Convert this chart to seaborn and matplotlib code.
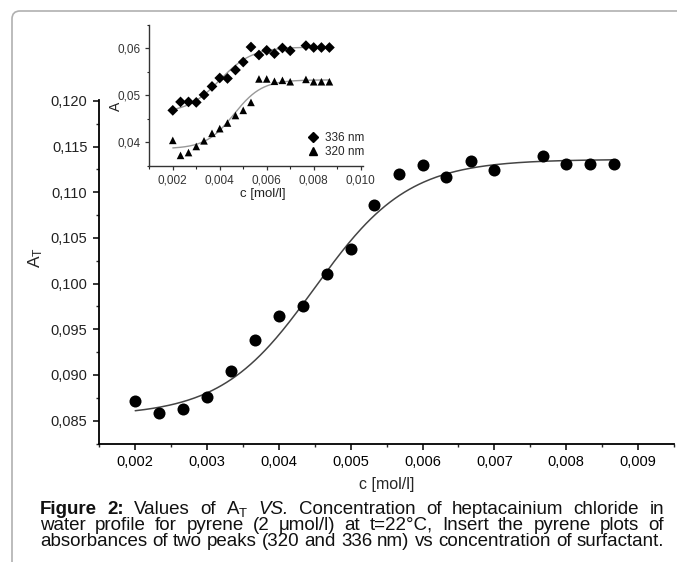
import numpy as np
import pandas as pd
import matplotlib
matplotlib.use("Agg")
import matplotlib.pyplot as plt
import seaborn as sns
from matplotlib.ticker import MultipleLocator, FuncFormatter
from matplotlib.patches import FancyBboxPatch
from matplotlib.lines import Line2D

# ---------------- data ----------------
conc = [0.002, 0.00233, 0.00267, 0.003, 0.00333, 0.00367, 0.004, 0.00433,
        0.00467, 0.005, 0.00533, 0.00567, 0.006, 0.00633, 0.00667, 0.007,
        0.00767, 0.008, 0.00833, 0.00867]
a_total = [0.0872, 0.0858, 0.0863, 0.0876, 0.0904, 0.0938, 0.0965, 0.0976,
           0.1010, 0.1038, 0.1086, 0.1120, 0.1130, 0.1117, 0.1134, 0.1124,
           0.1140, 0.1131, 0.1131, 0.1131]
a_336 = [0.0468, 0.0486, 0.0486, 0.0485, 0.0501, 0.0519, 0.0537, 0.0536,
         0.0554, 0.0571, 0.0603, 0.0586, 0.0596, 0.0589, 0.0601, 0.0595,
         0.0606, 0.0602, 0.0602, 0.0602]
a_320 = [0.0404, 0.0372, 0.0378, 0.0391, 0.0403, 0.0419, 0.0429, 0.0441,
         0.0457, 0.0468, 0.0485, 0.0535, 0.0535, 0.0530, 0.0532, 0.0529,
         0.0534, 0.0529, 0.0529, 0.0529]

# Boltzmann fit parameters (A1, A2, x0, dx)
fit_total = (0.0855, 0.1136, 0.0045, 0.00065)
fit_336 = (0.0462, 0.0603, 0.0040, 0.0007)
fit_320 = (0.0386, 0.0533, 0.0046, 0.0006)

series_labels = ["336 nm", "320 nm"]
xlabel = "c [mol/l]"

caption_lines = [
    [("Figure", "bold"), ("2:", "bold"), ("Values", ""), ("of", ""),
     ("A$_\\mathrm{T}$", ""), ("VS.", "italic"), ("Concentration", ""),
     ("of", ""), ("heptacainium", ""), ("chloride", ""), ("in", "")],
    [(w, "") for w in "water profile for pyrene (2 μmol/l) at t=22°C, Insert the pyrene plots of".split()],
    [(w, "") for w in "absorbances of two peaks (320 and 336 nm) vs concentration of surfactant.".split()],
]


def boltzmann(x, p):
    a1, a2, x0, dx = p
    return a2 + (a1 - a2) / (1 + np.exp((x - x0) / dx))


# ---------------- style ----------------
sns.set_style("ticks")
plt.rcParams["font.family"] = ["Liberation Sans", "DejaVu Sans"]
plt.rcParams["mathtext.fontset"] = "custom"
plt.rcParams["mathtext.rm"] = "Liberation Sans"
plt.rcParams["mathtext.it"] = "Liberation Sans:italic"

W, H = 677, 562
fig = plt.figure(figsize=(W / 100, H / 100), dpi=100)
fig.patch.set_facecolor("white")

# frame (rounded corner at top-left, rest cut off)
frame = FancyBboxPatch((0.12, -1.0), 8.0, 1.0 + (H - 11) / 100,
                       boxstyle="round,pad=0,rounding_size=0.08",
                       transform=fig.dpi_scale_trans, fill=False,
                       edgecolor="#b0b0b0", lw=1.2, zorder=0)
fig.patches.append(frame)


def comma_fmt(decimals):
    return FuncFormatter(lambda v, pos: f"{v:.{decimals}f}".replace(".", ","))


# ---------------- main axes ----------------
L, R, T, B = 99.3, 674, 100, 443.5
ax = fig.add_axes([L / W, 1 - B / H, (R - L) / W, (B - T) / H])
df = pd.DataFrame({"c": conc, "A": a_total})
xs = np.linspace(conc[0], conc[-1], 300)
sns.lineplot(x=xs, y=boltzmann(xs, fit_total), ax=ax, color="#444444", lw=1.1)
sns.scatterplot(data=df, x="c", y="A", ax=ax, color="black", s=75,
                edgecolor="black", linewidth=0, zorder=3)
ax.set_xlim(0.0015, 0.0095)
ax.set_ylim(0.0825, 0.1201)
ax.xaxis.set_major_locator(MultipleLocator(0.001))
ax.xaxis.set_minor_locator(MultipleLocator(0.0005))
ax.yaxis.set_major_locator(MultipleLocator(0.005))
ax.yaxis.set_minor_locator(MultipleLocator(0.0025))
ax.xaxis.set_major_formatter(comma_fmt(3))
ax.yaxis.set_major_formatter(comma_fmt(3))
sns.despine(ax=ax)
for s in ("left", "bottom"):
    ax.spines[s].set_linewidth(1.3)
    ax.spines[s].set_color("black")
ax.tick_params(which="major", length=4.5, width=1.1, labelsize=10.5,
               colors="black", pad=4)
ax.tick_params(which="minor", length=2.5, width=1.0)
ax.tick_params(axis="y", labelcolor="#222222")
ax.set_xlabel(xlabel, fontsize=11.5)
ax.set_ylabel("A$_\\mathrm{T}$", fontsize=12.5)
ax.xaxis.set_label_coords(0.5, -0.097)
ax.yaxis.set_label_coords(-0.094, 0.54)
ax.xaxis.label.set_va("top")

# ---------------- inset ----------------
iL, iR, iT, iB = 149.3, 363, 25, 165.7
axi = fig.add_axes([iL / W, 1 - iB / H, (iR - iL) / W, (iB - iT) / H])
axi.patch.set_alpha(0)
dfi = pd.DataFrame({"c": conc * 2, "A": a_336 + a_320,
                    "series": [series_labels[0]] * len(conc) + [series_labels[1]] * len(conc)})
sns.lineplot(x=xs, y=boltzmann(xs, fit_336), ax=axi, color="#999999", lw=1.0)
sns.lineplot(x=xs, y=boltzmann(xs, fit_320), ax=axi, color="#999999", lw=1.0)
sns.scatterplot(data=dfi, x="c", y="A", hue="series", style="series",
                markers={series_labels[0]: "D", series_labels[1]: "^"},
                palette={series_labels[0]: "black", series_labels[1]: "black"},
                s=30, linewidth=0, ax=axi, zorder=3, legend=False)
axi.set_xlim(0.001, 0.0101)
axi.set_ylim(0.035, 0.065)
axi.xaxis.set_major_locator(MultipleLocator(0.002))
axi.xaxis.set_minor_locator(MultipleLocator(0.001))
axi.yaxis.set_major_locator(MultipleLocator(0.01))
axi.yaxis.set_minor_locator(MultipleLocator(0.005))
axi.xaxis.set_major_formatter(comma_fmt(3))
axi.yaxis.set_major_formatter(comma_fmt(2))
sns.despine(ax=axi)
for s in ("left", "bottom"):
    axi.spines[s].set_linewidth(1.0)
    axi.spines[s].set_color("#333333")
axi.tick_params(which="major", length=3, width=0.9, labelsize=8.5, pad=3,
                colors="#333333")
axi.tick_params(which="minor", length=1.8, width=0.8)
axi.set_xlabel(xlabel, fontsize=9.5, color="#222222")
axi.set_ylabel("A", fontsize=10, color="#222222")
axi.xaxis.set_label_coords(0.53, -0.16)
axi.xaxis.label.set_va("top")
axi.yaxis.set_label_coords(-0.125, 0.42)
handles = [Line2D([], [], ls="none", marker="D", color="black", ms=5.6),
           Line2D([], [], ls="none", marker="^", color="black", ms=6.4)]
axi.legend(handles, series_labels, loc="lower right", frameon=False,
           fontsize=8.5, handletextpad=0.35, labelspacing=0.2,
           borderaxespad=0.0, handlelength=1.4, bbox_to_anchor=(1.03, 0.02))

# ---------------- caption (justified) ----------------
renderer = fig.canvas.get_renderer()
x0, x1 = 40, 664
baselines = [H - 514, H - 530, H - 546]
for words, yb in zip(caption_lines, baselines):
    texts = []
    for w, sty in words:
        kw = {}
        if sty == "bold":
            kw["fontweight"] = "bold"
        if sty == "italic":
            kw["fontstyle"] = "italic"
        t = fig.text(0, yb, w, transform=None, fontsize=13.5, va="baseline",
                     ha="left", color="#111111", **kw)
        texts.append(t)
    widths = [t.get_window_extent(renderer).width for t in texts]
    gap = (x1 - x0 - sum(widths)) / (len(texts) - 1)
    xp = x0
    for t, w in zip(texts, widths):
        t.set_x(xp)
        xp += w + gap

fig.savefig("out.png", dpi=100)
